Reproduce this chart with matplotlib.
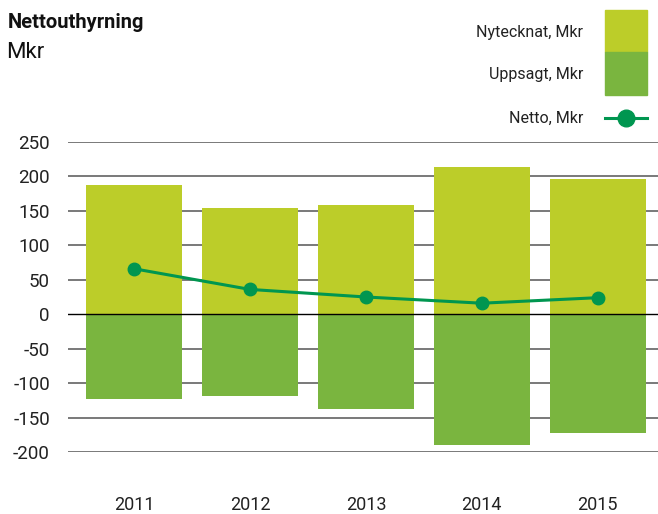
import matplotlib
matplotlib.use("Agg")
import matplotlib.pyplot as plt
from matplotlib.patches import Rectangle
from matplotlib.lines import Line2D

years = ["2011", "2012", "2013", "2014", "2015"]
nytecknat = [187, 154, 158, 214, 196]
uppsagt = [-123, -118, -138, -190, -173]
netto = [66, 36, 25, 16, 24]
yticks = [250, 200, 150, 100, 50, 0, -50, -100, -150, -200]

LIGHT = "#bccd29"
DARK = "#7ab53f"
LINE = "#009650"
FONT = "Roboto"
plt.rcParams["font.family"] = [FONT, "DejaVu Sans"]

W, H = 658, 514
fig = plt.figure(figsize=(W / 100, H / 100), dpi=100)
ax = fig.add_axes([68 / W, (H - 452) / H, (W - 68) / W, 310 / H])

x = list(range(len(years)))
ax.bar(x, nytecknat, width=0.83, color=LIGHT, zorder=2)
ax.bar(x, uppsagt, width=0.83, color=DARK, zorder=2)
for t in yticks:
    ax.axhline(t, color="#000000" if t == 0 else "#555555", lw=1.0 if t == 0 else 1.1, zorder=1 if t != 0 else 3)
ax.plot(x, netto, color=LINE, lw=2.2, marker="o", markersize=9, zorder=4)

ax.set_xlim(-0.57, 4.52)
ax.set_ylim(-200, 250)
ax.set_yticks(yticks)
ax.set_yticklabels([str(t) for t in yticks], fontsize=13.5, color="#222222")
ax.set_xticks(x)
ax.set_xticklabels(years, fontsize=13, color="#222222")
ax.tick_params(axis="y", length=0, pad=13)
ax.tick_params(axis="x", length=0, pad=32)
for s in ax.spines.values():
    s.set_visible(False)

fig.text(8 / W, 1 - 22 / H, "Nettouthyrning", fontsize=14.5, fontweight="bold", va="center", ha="left", color="#111111")
fig.text(6 / W, 1 - 53 / H, "Mkr", fontsize=16, va="center", ha="left", color="#111111")

# legend
fig.add_artist(Rectangle((605 / W, 1 - 52 / H), 42 / W, 42 / H, transform=fig.transFigure, color=LIGHT))
fig.add_artist(Rectangle((605 / W, 1 - 95 / H), 42 / W, 43 / H, transform=fig.transFigure, color=DARK))
fig.add_artist(Line2D([605 / W, 647 / W], [1 - 118 / H] * 2, transform=fig.transFigure, color=LINE, lw=2.2))
fig.add_artist(Line2D([626 / W], [1 - 118 / H], transform=fig.transFigure, color=LINE, marker="o", markersize=12))
for label, yy in [("Nytecknat, Mkr", 32), ("Uppsagt, Mkr", 75), ("Netto, Mkr", 118)]:
    fig.text(583 / W, 1 - yy / H, label, fontsize=11.5, ha="right", va="center", color="#222222")

fig.savefig("out.png", dpi=100)
